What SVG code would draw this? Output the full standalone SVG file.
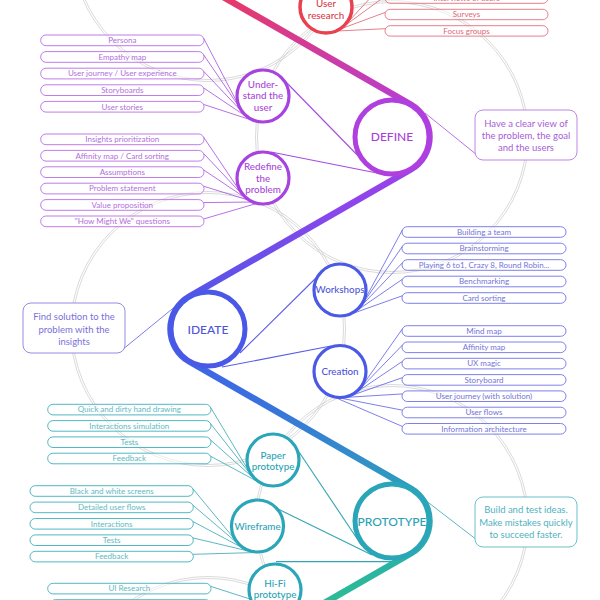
<svg xmlns="http://www.w3.org/2000/svg" width="600" height="600" viewBox="0 0 600 600">
<defs>
<linearGradient id="flow" gradientUnits="userSpaceOnUse" x1="0" y1="0" x2="0" y2="600">
<stop offset="0" stop-color="#e6396a"/>
<stop offset="0.08" stop-color="#d03c9a"/>
<stop offset="0.2" stop-color="#b03fe0"/>
<stop offset="0.35" stop-color="#8a46ec"/>
<stop offset="0.52" stop-color="#4a58e8"/>
<stop offset="0.66" stop-color="#3a6ee0"/>
<stop offset="0.84" stop-color="#2ba6b8"/>
<stop offset="1" stop-color="#2cbb96"/>
</linearGradient>
<style>
.g{fill:none;stroke:#cacaca;stroke-width:0.7}
text{font-family:Lato,"Noto Sans","Liberation Sans",sans-serif;text-anchor:middle}
.leaf{font-size:8px}
.sub{font-size:9.8px;font-weight:500}
.main{font-size:12px;font-weight:500}
.note{font-size:9.5px}
.ln{fill:none;stroke-width:0.8}
.r .box{fill:#fff;fill-opacity:.5;stroke:#e3707e;stroke-width:0.9}
.r text{fill:#dc6878}
.p .box{fill:#fff;fill-opacity:.5;stroke:#b86ee6;stroke-width:0.9}
.p text{fill:#b070dc}
.b .box{fill:#fff;fill-opacity:.5;stroke:#6f72e6;stroke-width:0.9}
.b text{fill:#7474d8}
.t .box{fill:#fff;fill-opacity:.5;stroke:#3fb0bb;stroke-width:0.9}
.t text{fill:#62b9c2}
.lr{stroke:#e0606e}
.lp{stroke:#a54de0}
.lb{stroke:#5a5ee6}
.lt{stroke:#34a5b3}
.mc{fill:#fff;stroke-width:5}
.sc{fill:#fff;stroke-width:3.2}
.note-box{fill:#fff;stroke-width:0.9}
</style>
</defs>
<rect x="0" y="0" width="600" height="600" fill="#fff"/>

<g id="guides">
<circle class="g" cx="208" cy="-55" r="134.5"/><circle class="g" cx="208" cy="-55" r="136.5"/>
<circle class="g" cx="392" cy="137" r="134.5"/><circle class="g" cx="392" cy="137" r="136.5"/>
<circle class="g" cx="208" cy="329" r="135.5"/><circle class="g" cx="208" cy="329" r="137.5"/>
<circle class="g" cx="392" cy="521" r="134.5"/><circle class="g" cx="392" cy="521" r="136.5"/>
<circle class="g" cx="208" cy="713" r="134.5"/><circle class="g" cx="208" cy="713" r="136.5"/>
</g>

<g id="connectors">
<g class="ln lr">
<line x1="347.5" y1="22.6" x2="386" y2="-19"/>
<line x1="344.7" y1="25.7" x2="385.5" y2="-4"/>
<line x1="341.2" y1="28.7" x2="385.5" y2="12.3"/>
<line x1="337.2" y1="31" x2="385.5" y2="28.7"/>
</g>
<g class="ln lp">
<line x1="203.5" y1="38" x2="242.7" y2="113"/>
<line x1="203.5" y1="54.6" x2="244.9" y2="115.4"/>
<line x1="203.5" y1="71.2" x2="247.4" y2="117.4"/>
<line x1="203.5" y1="87.8" x2="250.2" y2="119.2"/>
<line x1="203.5" y1="104.4" x2="253.1" y2="120.6"/>
<line x1="203.5" y1="137" x2="241.3" y2="193.2"/>
<line x1="203.5" y1="153.4" x2="243.3" y2="195.7"/>
<line x1="203.5" y1="169.8" x2="245.6" y2="198"/>
<line x1="203.5" y1="186.2" x2="248.2" y2="200"/>
<line x1="203.5" y1="202.6" x2="251.8" y2="202"/>
<line x1="203.5" y1="219" x2="256.1" y2="203.6"/>
<line x1="284" y1="80" x2="367" y2="165" stroke-width="1.1"/>
<line x1="271" y1="152" x2="382" y2="174" stroke-width="1.1"/>
<line x1="425" y1="113" x2="477" y2="155"/>
</g>
<g class="ln lb">
<line x1="402.5" y1="229.7" x2="364" y2="301.2"/>
<line x1="402.5" y1="246.2" x2="361.7" y2="305.2"/>
<line x1="402.5" y1="262.7" x2="358.7" y2="308.7"/>
<line x1="402.5" y1="279.2" x2="355.2" y2="311.7"/>
<line x1="402.5" y1="295.7" x2="351.2" y2="314"/>
<line x1="402.5" y1="328.7" x2="363" y2="384.75"/>
<line x1="402.5" y1="345" x2="359.7" y2="389.2"/>
<line x1="402.5" y1="361.3" x2="355.6" y2="392.9"/>
<line x1="402.5" y1="377.6" x2="350.8" y2="395.7"/>
<line x1="402.5" y1="393.9" x2="345.5" y2="397.4"/>
<line x1="402.5" y1="410.2" x2="340" y2="398"/>
<line x1="402.5" y1="426.5" x2="335.4" y2="397.6"/>
<line x1="240" y1="353" x2="319" y2="275" stroke-width="1.1"/>
<line x1="222" y1="367" x2="331" y2="346" stroke-width="1.1"/>
<line x1="177" y1="305" x2="122" y2="350"/>
</g>
<g class="ln lt">
<line x1="210.5" y1="407.3" x2="249.6" y2="472.4"/>
<line x1="210.5" y1="423.6" x2="251.8" y2="476"/>
<line x1="210.5" y1="439.9" x2="254.6" y2="479.1"/>
<line x1="210.5" y1="456.2" x2="257.8" y2="481.7"/>
<line x1="192.8" y1="488.7" x2="240.5" y2="546.3"/>
<line x1="192.8" y1="505.1" x2="244.25" y2="549"/>
<line x1="192.8" y1="521.5" x2="248.4" y2="550.9"/>
<line x1="192.8" y1="537.9" x2="252.9" y2="552.1"/>
<line x1="192.8" y1="554.3" x2="256.6" y2="552.5"/>
<line x1="210.5" y1="586.3" x2="250" y2="599"/>
<line x1="210.5" y1="602.7" x2="252" y2="604"/>
<line x1="297" y1="449" x2="362" y2="546" stroke-width="1.1"/>
<line x1="276" y1="508" x2="372" y2="555" stroke-width="1.1"/>
<line x1="276" y1="561.6" x2="394" y2="561.6" stroke-width="1.3"/>
<line x1="425" y1="500" x2="477" y2="540"/>
</g>
<path id="flow-line" d="M189.34,-22.47 L410.66,104.47 A37.5,37.5 0 0 1 410.66,169.53 L189.34,296.47 A37.5,37.5 0 0 0 189.34,361.53 L410.66,488.47 A37.5,37.5 0 0 1 410.66,553.53 L189.34,680.47" fill="none" stroke="url(#flow)" stroke-width="6.5" stroke-linejoin="round"/>
</g>

<g id="user-research" class="r">
<circle cx="326" cy="7" r="26" fill="#fff" stroke="#e8414f" stroke-width="3.5"/>
<text class="sub" x="326" y="7.3" style="fill:#d83c4c">User</text>
<text class="sub" x="326" y="18.5" style="fill:#d83c4c">research</text>
<rect class="box" x="385" y="-7.1" width="163" height="10.4" rx="5.2"/><text class="leaf" x="466.5" y="0.9">Interviews of users</text>
<rect class="box" x="385" y="9.3" width="163" height="10.4" rx="5.2"/><text class="leaf" x="466.5" y="17.3">Surveys</text>
<rect class="box" x="385" y="25.7" width="163" height="10.4" rx="5.2"/><text class="leaf" x="466.5" y="33.7">Focus groups</text>
</g>

<g id="understand" class="p">
<circle class="sc" cx="263" cy="96" r="26" stroke="#a744e0"/>
<text class="sub" x="263" y="87.5" style="fill:#a847d8">Under-</text>
<text class="sub" x="263" y="99.3" style="fill:#a847d8">stand the</text>
<text class="sub" x="263" y="110.8" style="fill:#a847d8">user</text>
<rect class="box" x="40.7" y="35" width="163.3" height="10.7" rx="5.3"/><text class="leaf" x="122.3" y="43.2">Persona</text>
<rect class="box" x="40.7" y="51.6" width="163.3" height="10.7" rx="5.3"/><text class="leaf" x="122.3" y="59.8">Empathy map</text>
<rect class="box" x="40.7" y="68.2" width="163.3" height="10.7" rx="5.3"/><text class="leaf" x="122.3" y="76.4">User journey / User experience</text>
<rect class="box" x="40.7" y="84.8" width="163.3" height="10.7" rx="5.3"/><text class="leaf" x="122.3" y="93">Storyboards</text>
<rect class="box" x="40.7" y="101.4" width="163.3" height="10.7" rx="5.3"/><text class="leaf" x="122.3" y="109.6">User stories</text>
</g>

<g id="redefine" class="p">
<circle class="sc" cx="263" cy="178" r="26" stroke="#a744e0"/>
<text class="sub" x="263" y="170" style="fill:#a847d8">Redefine</text>
<text class="sub" x="263" y="181.5" style="fill:#a847d8">the</text>
<text class="sub" x="263" y="193" style="fill:#a847d8">problem</text>
<rect class="box" x="40.7" y="134" width="163.3" height="10.7" rx="5.3"/><text class="leaf" x="122.3" y="142.2">Insights prioritization</text>
<rect class="box" x="40.7" y="150.4" width="163.3" height="10.7" rx="5.3"/><text class="leaf" x="122.3" y="158.6">Affinity map / Card sorting</text>
<rect class="box" x="40.7" y="166.8" width="163.3" height="10.7" rx="5.3"/><text class="leaf" x="122.3" y="175">Assumptions</text>
<rect class="box" x="40.7" y="183.2" width="163.3" height="10.7" rx="5.3"/><text class="leaf" x="122.3" y="191.4">Problem statement</text>
<rect class="box" x="40.7" y="199.6" width="163.3" height="10.7" rx="5.3"/><text class="leaf" x="122.3" y="207.8">Value proposition</text>
<rect class="box" x="40.7" y="216" width="163.3" height="10.7" rx="5.3"/><text class="leaf" x="122.3" y="224.2">"How Might We" questions</text>
</g>

<g id="define">
<circle class="mc" cx="392" cy="137" r="37" stroke="#b03fe0"/>
<text class="main" x="392" y="141.3" fill="#a63fd8">DEFINE</text>
<rect class="note-box" x="475" y="110" width="102" height="50" rx="8" stroke="#b878e2"/>
<text class="note" x="526" y="126.6" fill="#a75cd8">Have a clear view of</text>
<text class="note" x="526" y="139.2" fill="#a75cd8">the problem, the goal</text>
<text class="note" x="526" y="151.4" fill="#a75cd8">and the users</text>
</g>

<g id="ideate">
<circle class="mc" cx="208" cy="329" r="37" stroke="#4a58e8"/>
<text class="main" x="208" y="333.8" fill="#4d55d8">IDEATE</text>
<rect class="note-box" x="23" y="303" width="102" height="50" rx="8" stroke="#8880e0"/>
<text class="note" x="74" y="320.3" fill="#7a72da">Find solution to the</text>
<text class="note" x="74" y="332.6" fill="#7a72da">problem with the</text>
<text class="note" x="74" y="345" fill="#7a72da">insights</text>
</g>

<g id="workshops" class="b">
<circle class="sc" cx="340" cy="290" r="26" stroke="#4a5ae6"/>
<text class="sub" x="340" y="293.4" style="fill:#4d55d8">Workshops</text>
<rect class="box" x="402" y="226.7" width="164" height="10.6" rx="5.3"/><text class="leaf" x="484" y="234.8">Building a team</text>
<rect class="box" x="402" y="243.2" width="164" height="10.6" rx="5.3"/><text class="leaf" x="484" y="251.3">Brainstorming</text>
<rect class="box" x="402" y="259.7" width="164" height="10.6" rx="5.3"/><text class="leaf" x="484" y="267.8">Playing 6 to1, Crazy 8, Round Robin...</text>
<rect class="box" x="402" y="276.2" width="164" height="10.6" rx="5.3"/><text class="leaf" x="484" y="284.3">Benchmarking</text>
<rect class="box" x="402" y="292.7" width="164" height="10.6" rx="5.3"/><text class="leaf" x="484" y="300.8">Card sorting</text>
</g>

<g id="creation" class="b">
<circle class="sc" cx="340" cy="371.5" r="26" stroke="#4a5ae6"/>
<text class="sub" x="340" y="375" style="fill:#4d55d8">Creation</text>
<rect class="box" x="402" y="325.7" width="164" height="10.6" rx="5.3"/><text class="leaf" x="484" y="333.8">Mind map</text>
<rect class="box" x="402" y="342" width="164" height="10.6" rx="5.3"/><text class="leaf" x="484" y="350.1">Affinity map</text>
<rect class="box" x="402" y="358.3" width="164" height="10.6" rx="5.3"/><text class="leaf" x="484" y="366.4">UX magic</text>
<rect class="box" x="402" y="374.6" width="164" height="10.6" rx="5.3"/><text class="leaf" x="484" y="382.7">Storyboard</text>
<rect class="box" x="402" y="390.9" width="164" height="10.6" rx="5.3"/><text class="leaf" x="484" y="399">User journey (with solution)</text>
<rect class="box" x="402" y="407.2" width="164" height="10.6" rx="5.3"/><text class="leaf" x="484" y="415.3">User flows</text>
<rect class="box" x="402" y="423.5" width="164" height="10.6" rx="5.3"/><text class="leaf" x="484" y="431.6">Information architecture</text>
</g>

<g id="prototype">
<circle class="mc" cx="392" cy="521" r="37" stroke="#2ba6b8"/>
<text class="main" x="392" y="526.3" fill="#2aa2b5">PROTOTYPE</text>
<rect class="note-box" x="475" y="497" width="102" height="50" rx="8" stroke="#5ab8c2"/>
<text class="note" x="526" y="513.4" fill="#4fb2c0">Build and test ideas.</text>
<text class="note" x="526" y="525.6" fill="#4fb2c0">Make mistakes quickly</text>
<text class="note" x="526" y="537.6" fill="#4fb2c0">to succeed faster.</text>
</g>

<g id="paper-prototype" class="t">
<circle class="sc" cx="273" cy="460" r="26" stroke="#2ba6b8"/>
<text class="sub" x="273" y="458.6" style="fill:#2aa2b5">Paper</text>
<text class="sub" x="273" y="470.2" style="fill:#2aa2b5">prototype</text>
<rect class="box" x="47.7" y="404.3" width="163.3" height="10.6" rx="5.3"/><text class="leaf" x="129.3" y="412.4">Quick and dirty hand drawing</text>
<rect class="box" x="47.7" y="420.6" width="163.3" height="10.6" rx="5.3"/><text class="leaf" x="129.3" y="428.7">Interactions simulation</text>
<rect class="box" x="47.7" y="436.9" width="163.3" height="10.6" rx="5.3"/><text class="leaf" x="129.3" y="445">Tests</text>
<rect class="box" x="47.7" y="453.2" width="163.3" height="10.6" rx="5.3"/><text class="leaf" x="129.3" y="461.3">Feedback</text>
</g>

<g id="wireframe" class="t">
<circle class="sc" cx="257.5" cy="526" r="26" stroke="#2ba6b8"/>
<text class="sub" x="257.5" y="530" style="fill:#2aa2b5">Wireframe</text>
<rect class="box" x="30" y="485.7" width="163.3" height="10.6" rx="5.3"/><text class="leaf" x="111.7" y="493.8">Black and white screens</text>
<rect class="box" x="30" y="502.1" width="163.3" height="10.6" rx="5.3"/><text class="leaf" x="111.7" y="510.2">Detailed user flows</text>
<rect class="box" x="30" y="518.5" width="163.3" height="10.6" rx="5.3"/><text class="leaf" x="111.7" y="526.6">Interactions</text>
<rect class="box" x="30" y="534.9" width="163.3" height="10.6" rx="5.3"/><text class="leaf" x="111.7" y="543">Tests</text>
<rect class="box" x="30" y="551.3" width="163.3" height="10.6" rx="5.3"/><text class="leaf" x="111.7" y="559.4">Feedback</text>
</g>

<g id="hifi-prototype" class="t">
<circle class="sc" cx="275" cy="590" r="26" stroke="#2ba6b8"/>
<text class="sub" x="275" y="586.6" style="fill:#2aa2b5">Hi-Fi</text>
<text class="sub" x="275" y="598.2" style="fill:#2aa2b5">prototype</text>
<rect class="box" x="47.7" y="583.3" width="163.3" height="10.6" rx="5.3"/><text class="leaf" x="129.3" y="591.4">UI Research</text>
<rect class="box" x="50" y="599.7" width="161" height="10.6" rx="5.3"/>
</g>
</svg>
